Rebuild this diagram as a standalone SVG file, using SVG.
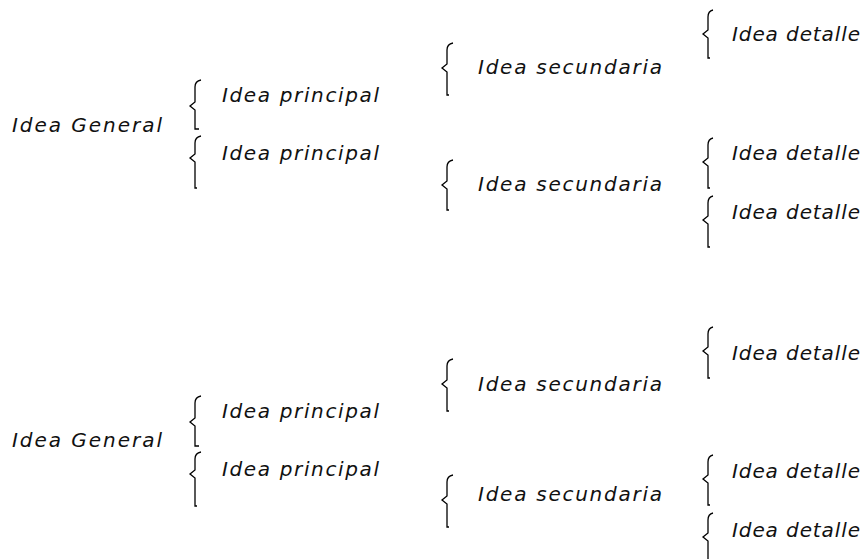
<svg xmlns="http://www.w3.org/2000/svg" width="868" height="559" viewBox="0 0 868 559">
  <style>
    .t { font-family: "DejaVu Sans", "Liberation Sans", sans-serif; font-style: italic; font-size: 20px; fill: #111; }
    .b { fill: none; stroke: #000; stroke-width: 1.3; stroke-linejoin: miter; }
  </style>
  <rect width="868" height="559" fill="#fff"/>

  <!-- curly braces, each drawn as one path: top hook, left point, bottom hook -->
  <g id="connectors">
    <!-- upper tree -->
    <path class="b" d="M201,80 Q195,81 195,87 L195,102 L190,106 L195,110 L195,129 L199,129"/>
    <path class="b" d="M201,136 Q195,137 195,143 L195,154 L190,158 L195,162 L195,188 L197,188"/>
    <path class="b" d="M453,43 Q447,44 447,50 L447,64 L442,68 L447,72 L447,95 L449,95"/>
    <path class="b" d="M453,160 Q447,161 447,167 L447,181 L442,185 L447,189 L447,210 L449,210"/>
    <path class="b" d="M713,10 Q708,11 708,17 L708,30 L703,34 L708,38 L708,58 L710,58"/>
    <path class="b" d="M713,138 Q708,139 708,145 L708,158 L703,162 L708,166 L708,188 L710,188"/>
    <path class="b" d="M713,196 Q708,197 708,203 L708,216 L703,220 L708,224 L708,247 L710,247"/>
    <!-- lower tree -->
    <path class="b" d="M201,396 Q195,397 195,403 L195,418 L190,422 L195,426 L195,446 L199,446"/>
    <path class="b" d="M201,452 Q195,453 195,459 L195,470 L190,474 L195,478 L195,506 L197,506"/>
    <path class="b" d="M453,359 Q447,360 447,366 L447,380 L442,384 L447,388 L447,411 L449,411"/>
    <path class="b" d="M453,475 Q447,476 447,482 L447,496 L442,500 L447,504 L447,527 L449,527"/>
    <path class="b" d="M713,327 Q708,328 708,334 L708,347 L703,351 L708,355 L708,378 L710,378"/>
    <path class="b" d="M713,455 Q708,456 708,462 L708,475 L703,479 L708,483 L708,505 L710,505"/>
    <path class="b" d="M713,513 Q708,514 708,520 L708,533 L703,537 L708,541 L708,559"/>
  </g>

  <!-- upper tree -->
  <g id="general-1"><text class="t" x="12" y="132" textLength="150" lengthAdjust="spacing">Idea General</text></g>
  <g id="principal-1a"><text class="t" x="222" y="102" textLength="157" lengthAdjust="spacing">Idea principal</text></g>
  <g id="principal-1b"><text class="t" x="222" y="160" textLength="157" lengthAdjust="spacing">Idea principal</text></g>
  <g id="secundaria-1a"><text class="t" x="478" y="74" textLength="184" lengthAdjust="spacing">Idea secundaria</text></g>
  <g id="secundaria-1b"><text class="t" x="478" y="191" textLength="184" lengthAdjust="spacing">Idea secundaria</text></g>
  <g id="detalle-1a"><text class="t" x="732" y="41" textLength="128" lengthAdjust="spacing">Idea detalle</text></g>
  <g id="detalle-1b"><text class="t" x="732" y="160" textLength="128" lengthAdjust="spacing">Idea detalle</text></g>
  <g id="detalle-1c"><text class="t" x="732" y="219" textLength="128" lengthAdjust="spacing">Idea detalle</text></g>

  <!-- lower tree -->
  <g id="general-2"><text class="t" x="12" y="447" textLength="150" lengthAdjust="spacing">Idea General</text></g>
  <g id="principal-2a"><text class="t" x="222" y="418" textLength="157" lengthAdjust="spacing">Idea principal</text></g>
  <g id="principal-2b"><text class="t" x="222" y="476" textLength="157" lengthAdjust="spacing">Idea principal</text></g>
  <g id="secundaria-2a"><text class="t" x="478" y="391" textLength="184" lengthAdjust="spacing">Idea secundaria</text></g>
  <g id="secundaria-2b"><text class="t" x="478" y="501" textLength="184" lengthAdjust="spacing">Idea secundaria</text></g>
  <g id="detalle-2a"><text class="t" x="732" y="360" textLength="128" lengthAdjust="spacing">Idea detalle</text></g>
  <g id="detalle-2b"><text class="t" x="732" y="478" textLength="128" lengthAdjust="spacing">Idea detalle</text></g>
  <g id="detalle-2c"><text class="t" x="732" y="537" textLength="128" lengthAdjust="spacing">Idea detalle</text></g>
</svg>
